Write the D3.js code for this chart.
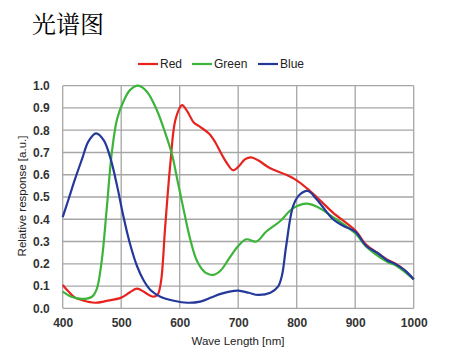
<!DOCTYPE html>
<html><head><meta charset="utf-8">
<script src="https://cdn.jsdelivr.net/npm/d3@7"></script>
<style>
body{margin:0;background:#fff;}
svg{display:block;}
</style></head>
<body>
<svg id="chart" width="452" height="363"></svg>
<script>
const xTicks = [400,500,600,700,800,900,1000];
const yTicks = [0,0.1,0.2,0.3,0.4,0.5,0.6,0.7,0.8,0.9,1.0];

const redWave = [400,410,420,435,455,475,500,515,527,540,553,562,568,575,584,593,604,613,624,635,650,661,670,680,691,700,712,722,734,754,782,800,817,834,862,900,919,940,954,971,985,1000];
const redVal  = [0.105,0.075,0.05,0.035,0.025,0.033,0.048,0.072,0.088,0.072,0.053,0.06,0.12,0.36,0.65,0.85,0.913,0.885,0.835,0.815,0.785,0.745,0.70,0.655,0.62,0.635,0.67,0.678,0.665,0.63,0.60,0.575,0.54,0.50,0.43,0.35,0.285,0.245,0.22,0.197,0.17,0.13];

const greenWave = [400,415,433,450,458,467,475,484,493,504,515,529,544,561,575,587,595,607,618,630,644,657,670,686,700,714,731,748,771,794,817,834,862,900,919,954,971,1000];
const greenVal  = [0.075,0.052,0.042,0.052,0.085,0.22,0.44,0.70,0.85,0.93,0.98,1.0,0.973,0.89,0.79,0.69,0.59,0.44,0.31,0.21,0.16,0.15,0.17,0.23,0.28,0.31,0.30,0.345,0.39,0.45,0.47,0.457,0.41,0.337,0.277,0.21,0.19,0.13];

const blueWave = [400,410,421,433,444,457,470,481,493,504,515,527,538,550,567,590,613,635,655,670,685,700,718,734,755,768,775,782,794,805,819,834,862,880,900,919,940,954,971,985,1000];
const blueVal  = [0.41,0.49,0.58,0.67,0.75,0.786,0.756,0.68,0.55,0.41,0.29,0.19,0.127,0.082,0.052,0.034,0.025,0.03,0.05,0.065,0.075,0.079,0.07,0.06,0.07,0.097,0.15,0.28,0.46,0.51,0.527,0.49,0.40,0.37,0.344,0.28,0.245,0.217,0.195,0.17,0.13];

const seriesNames = ["Red","Green","Blue"];
const seriesColors = ["#e8221e","#3cb43a","#24399a"];

const svg = d3.select("#chart");
const x = d3.scaleLinear().domain([400,1000]).range([62.7,413.7]);
const y = d3.scaleLinear().domain([0,1]).range([308.3,85.7]);

// title
svg.append("text").attr("x",32).attr("y",33)
  .attr("font-family","'Noto Serif CJK SC','Noto Sans CJK SC',serif")
  .attr("font-size",24).attr("fill","#000").text("光谱图");

// grid
const g = svg.append("g");
g.selectAll(".vg").data(xTicks).join("line")
  .attr("x1",d=>x(d)).attr("x2",d=>x(d)).attr("y1",y(0)).attr("y2",y(1))
  .attr("stroke","#a6a6a6").attr("stroke-width",1.3);
g.selectAll(".hg").data(yTicks).join("line")
  .attr("x1",x(400)).attr("x2",x(1000)).attr("y1",d=>y(d)).attr("y2",d=>y(d))
  .attr("stroke","#a6a6a6").attr("stroke-width",1.3);

// axes labels
const xAxis = d3.axisBottom(x).tickValues(xTicks).tickSize(0).tickPadding(10).tickFormat(d3.format("d"));
const xa = svg.append("g").attr("transform",`translate(0,${y(0)})`).call(xAxis);
xa.select(".domain").remove();
xa.selectAll("text").attr("font-family","'Liberation Sans',Arial,sans-serif").attr("font-size",12).attr("font-weight","bold").attr("fill","#333");

const yAxis = d3.axisLeft(y).tickValues(yTicks).tickSize(0).tickPadding(13).tickFormat(d3.format(".1f"));
const ya = svg.append("g").attr("transform",`translate(${x(400)},0)`).call(yAxis);
ya.select(".domain").remove();
ya.selectAll("text").attr("font-family","'Liberation Sans',Arial,sans-serif").attr("font-size",12).attr("font-weight","bold").attr("fill","#333");

svg.append("text").attr("x",238).attr("y",345).attr("text-anchor","middle")
  .attr("font-family","'Liberation Sans',Arial,sans-serif").attr("font-size",11.5).attr("fill","#222")
  .text("Wave Length [nm]");
svg.append("text").attr("transform","translate(26,196) rotate(-90)").attr("text-anchor","middle")
  .attr("font-family","'Liberation Sans',Arial,sans-serif").attr("font-size",11.5).attr("fill","#222")
  .text("Relative response [a.u.]");

// lines
const waves = [redWave, greenWave, blueWave];
const vals = [redVal, greenVal, blueVal];
const line = d3.line().x(d=>x(d[0])).y(d=>y(d[1])).curve(d3.curveCatmullRom.alpha(0.5));
const order = [0,1,2];
order.forEach(i=>{
  const data = waves[i].map((w,j)=>[w, vals[i][j]]);
  svg.append("path").datum(data).attr("d",line).attr("fill","none")
    .attr("stroke",seriesColors[i]).attr("stroke-width",2.2).attr("stroke-linejoin","round");
});

// legend
const legX = [138,192,258];
seriesNames.forEach((n,i)=>{
  svg.append("line").attr("x1",legX[i]).attr("x2",legX[i]+20).attr("y1",64).attr("y2",64)
    .attr("stroke",seriesColors[i]).attr("stroke-width",2.2);
  svg.append("text").attr("x",legX[i]+22).attr("y",68)
    .attr("font-family","'Liberation Sans',Arial,sans-serif").attr("font-size",12).attr("fill","#222")
    .text(n);
});
</script>
</body></html>
